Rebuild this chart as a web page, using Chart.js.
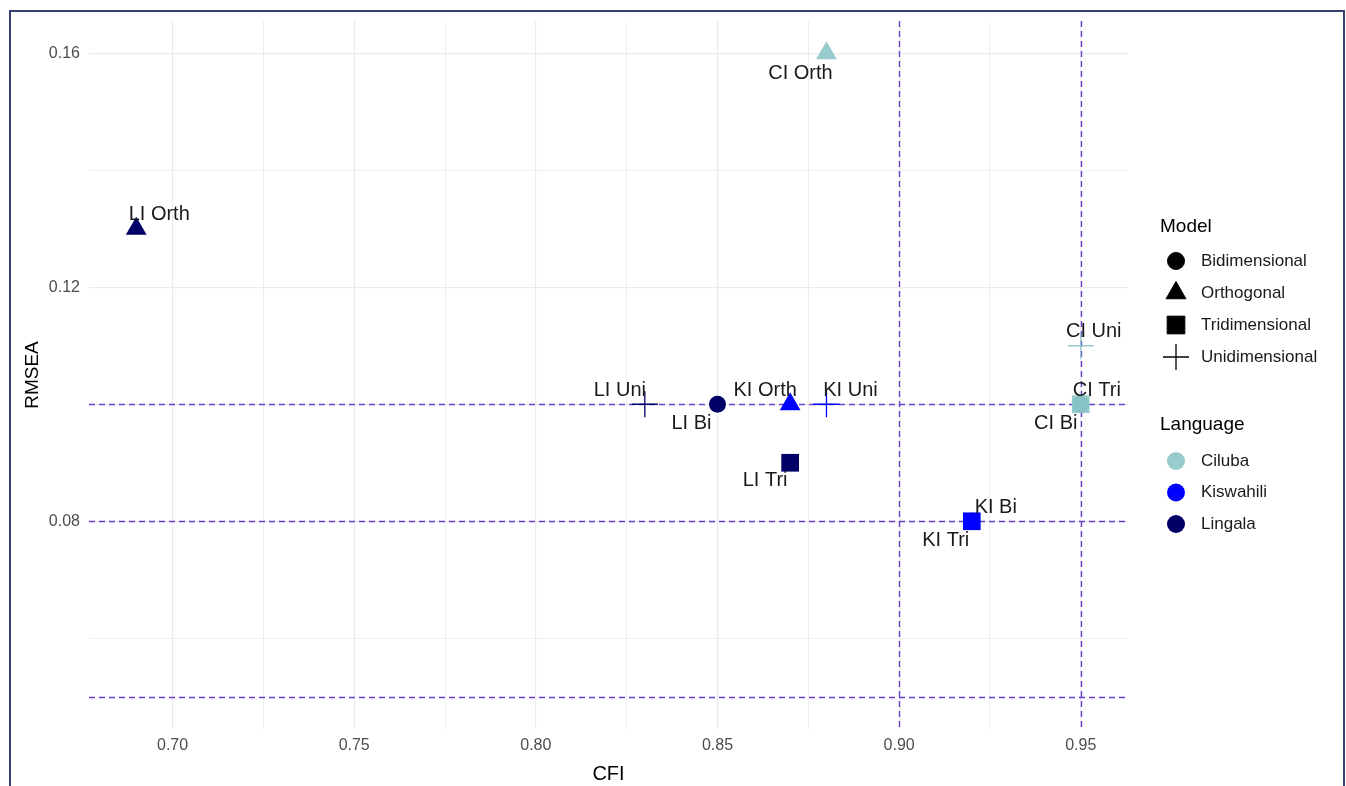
<!DOCTYPE html>
<html>
<head>
<meta charset="utf-8">
<script src="https://cdn.jsdelivr.net/npm/chart.js@4.4.1/dist/chart.umd.min.js"></script>
<style>
  html, body { margin: 0; padding: 0; background: #fff; }
  #wrap { position: relative; width: 1346px; height: 786px; overflow: hidden; }
  #frame { position: absolute; left: 9px; top: 10px; width: 1336px; height: 800px;
           border: 2px solid #34406f; box-sizing: border-box; pointer-events: none; }
  canvas { position: absolute; left: 0; top: 0; }
</style>
</head>
<body>
<div id="wrap">
  <canvas id="fitChart" width="1346" height="786"></canvas>
  <div id="frame"></div>
</div>
<script>
// values
var names    = ['LI Orth', 'CI Orth', 'LI Uni', 'LI Bi', 'KI Orth', 'KI Uni', 'LI Tri', 'KI Bi', 'KI Tri', 'CI Uni', 'CI Tri', 'CI Bi'];
var cfi      = [0.69, 0.88, 0.83, 0.85, 0.87, 0.88, 0.87, 0.92, 0.92, 0.95, 0.95, 0.95];
var rmsea    = [0.13, 0.16, 0.10, 0.10, 0.10, 0.10, 0.09, 0.08, 0.08, 0.11, 0.10, 0.10];
var language = ['Lingala', 'Ciluba', 'Lingala', 'Lingala', 'Kiswahili', 'Kiswahili', 'Lingala', 'Kiswahili', 'Kiswahili', 'Ciluba', 'Ciluba', 'Ciluba'];
var model    = ['Orthogonal', 'Orthogonal', 'Unidimensional', 'Bidimensional', 'Orthogonal', 'Unidimensional', 'Tridimensional', 'Bidimensional', 'Tridimensional', 'Unidimensional', 'Tridimensional', 'Bidimensional'];

var models    = ['Bidimensional', 'Orthogonal', 'Tridimensional', 'Unidimensional'];
var languages = ['Ciluba', 'Kiswahili', 'Lingala'];

// cut-off reference lines
var hLines = [0.10, 0.08, 0.05];
var vLines = [0.90, 0.95];

// axis ticks (grid at every step, label only on the major ones)
var xGrid   = [0.70, 0.725, 0.75, 0.775, 0.80, 0.825, 0.85, 0.875, 0.90, 0.925, 0.95];
var xLabels = ['0.70', '0.75', '0.80', '0.85', '0.90', '0.95'];
var yGrid   = [0.06, 0.08, 0.10, 0.12, 0.14, 0.16];
var yLabels = ['0.08', '0.12', '0.16'];

// look
var langColor = { Ciluba: 'rgba(133,194,195,0.85)', Kiswahili: '#0000ff', Lingala: '#000066' };
var shape = {
  Bidimensional:  { style: 'circle',   r: 8.5,  bw: 1 },
  Orthogonal:     { style: 'triangle', r: 12,   bw: 1 },
  Tridimensional: { style: 'rect',     r: 12.5, bw: 1 },
  Unidimensional: { style: 'cross',    r: 13,   bw: 1.3 }
};
// label nudges in pixels (where ggrepel pushed each text)
var labelNudge = {
  'LI Orth': [23, -14], 'CI Orth': [-26, 20], 'LI Uni': [-25, -14], 'LI Bi': [-26, 19],
  'KI Orth': [-25, -14], 'KI Uni': [24, -14], 'LI Tri': [-25, 18], 'KI Bi': [24, -14],
  'KI Tri': [-26, 19], 'CI Uni': [13, -14], 'CI Tri': [16, -14], 'CI Bi': [-25, 19]
};

var datasets = models.map(function (m) {
  var pts = [], cols = [], labs = [];
  for (var i = 0; i < names.length; i++) {
    if (model[i] !== m) continue;
    pts.push({ x: cfi[i], y: rmsea[i] });
    cols.push(langColor[language[i]]);
    labs.push(names[i]);
  }
  return {
    label: m,
    data: pts,
    names: labs,
    pointStyle: shape[m].style,
    pointRadius: shape[m].r,
    pointBorderWidth: m === 'Unidimensional' ? shape[m].bw : 0,
    pointBackgroundColor: cols,
    pointBorderColor: cols
  };
});

// dashed cut-offs under the marks
var refLines = {
  id: 'refLines',
  beforeDatasetsDraw: function (chart) {
    var ctx = chart.ctx, a = chart.chartArea;
    var xs = chart.scales.x, ys = chart.scales.y;
    ctx.save();
    ctx.strokeStyle = '#6a3fcf';
    ctx.lineWidth = 1.4;
    ctx.setLineDash([6, 4]);
    hLines.forEach(function (v) {
      var y = Math.round(ys.getPixelForValue(v)) + 0.5;
      ctx.beginPath(); ctx.moveTo(a.left, y); ctx.lineTo(a.right, y); ctx.stroke();
    });
    vLines.forEach(function (v) {
      var x = Math.round(xs.getPixelForValue(v)) + 0.5;
      ctx.beginPath(); ctx.moveTo(x, a.top); ctx.lineTo(x, a.bottom); ctx.stroke();
    });
    ctx.restore();
  }
};

var pointLabels = {
  id: 'pointLabels',
  afterDatasetsDraw: function (chart) {
    var ctx = chart.ctx;
    ctx.save();
    ctx.font = '20px "Liberation Sans", Arial, sans-serif';
    ctx.fillStyle = '#1a1a1a';
    ctx.textAlign = 'center';
    ctx.textBaseline = 'middle';
    chart.data.datasets.forEach(function (ds, di) {
      chart.getDatasetMeta(di).data.forEach(function (el, j) {
        var n = ds.names[j], d = labelNudge[n] || [0, -14];
        ctx.fillText(n, el.x + d[0], el.y + d[1]);
      });
    });
    ctx.restore();
  }
};

var sideLegend = {
  id: 'sideLegend',
  afterDraw: function (chart) {
    var ctx = chart.ctx;
    var x0 = chart.chartArea.right + 32, sx = x0 + 16, tx = x0 + 41;
    ctx.save();
    ctx.textAlign = 'left';
    ctx.textBaseline = 'middle';

    ctx.fillStyle = '#000';
    ctx.font = '19px "Liberation Sans", Arial, sans-serif';
    ctx.fillText('Model', x0, 227);
    ctx.font = '17px "Liberation Sans", Arial, sans-serif';
    models.forEach(function (m, i) {
      var y = 261 + i * 32;
      var s = shape[m];
      ctx.fillStyle = '#000'; ctx.strokeStyle = '#000'; ctx.lineWidth = s.bw;
      Chart.helpers.drawPoint(ctx, { pointStyle: s.style, radius: s.style === 'circle' ? 8.5 : s.style === 'triangle' ? 11.5 : s.r, rotation: 0, borderWidth: s.bw }, sx, y);
      ctx.fillStyle = '#1a1a1a';
      ctx.fillText(m, tx, y);
    });

    ctx.fillStyle = '#000';
    ctx.font = '19px "Liberation Sans", Arial, sans-serif';
    ctx.fillText('Language', x0, 425);
    ctx.font = '17px "Liberation Sans", Arial, sans-serif';
    languages.forEach(function (l, i) {
      var y = 461 + i * 31.5;
      ctx.fillStyle = langColor[l]; ctx.strokeStyle = langColor[l]; ctx.lineWidth = 1;
      Chart.helpers.drawPoint(ctx, { pointStyle: 'circle', radius: 9, rotation: 0, borderWidth: 0 }, sx, y);
      ctx.fillStyle = '#1a1a1a';
      ctx.fillText(l, tx, y);
    });
    ctx.restore();
  }
};

function fixTicks(values) {
  return function (scale) { scale.ticks = values.map(function (v) { return { value: v }; }); };
}
function isMajor(list, v) {
  var s = v.toFixed(2);
  return list.indexOf(s) >= 0 && Math.abs(v - parseFloat(s)) < 1e-9;
}
function majorOnly(list) {
  return function (value) { return isMajor(list, value) ? value.toFixed(2) : ''; };
}
function gridWidth(list) {
  return function (c) { return c.tick && isMajor(list, c.tick.value) ? 1.2 : 0.8; };
}

new Chart(document.getElementById('fitChart'), {
  type: 'scatter',
  data: { datasets: datasets },
  plugins: [refLines, pointLabels, sideLegend],
  options: {
    responsive: false,
    animation: false,
    devicePixelRatio: 1,
    events: [],
    layout: { padding: { left: 0, top: 21, right: 218, bottom: 0 } },
    plugins: { legend: { display: false }, tooltip: { enabled: false } },
    scales: {
      x: {
        type: 'linear', min: 0.677, max: 0.963,
        afterBuildTicks: fixTicks(xGrid),
        afterFit: function (s) { s.height = 57; },
        border: { display: false },
        grid: { color: '#ebebeb', lineWidth: gridWidth(xLabels), drawTicks: false },
        ticks: { callback: majorOnly(xLabels), color: '#4d4d4d', padding: 7, maxRotation: 0, autoSkip: false,
                 font: { family: '"Liberation Sans", Arial, sans-serif', size: 16 } },
        title: { display: true, text: 'CFI', color: '#000', padding: { top: 4, bottom: 0 },
                 font: { family: '"Liberation Sans", Arial, sans-serif', size: 20 } }
      },
      y: {
        type: 'linear', min: 0.0445, max: 0.1655,
        afterBuildTicks: fixTicks(yGrid),
        afterFit: function (s) { s.width = 89; },
        border: { display: false },
        grid: { color: '#ebebeb', lineWidth: gridWidth(yLabels), drawTicks: false },
        ticks: { callback: majorOnly(yLabels), color: '#4d4d4d', padding: 9, autoSkip: false,
                 font: { family: '"Liberation Sans", Arial, sans-serif', size: 16 } },
        title: { display: true, text: 'RMSEA', color: '#000', padding: { top: 21, bottom: 0 },
                 font: { family: '"Liberation Sans", Arial, sans-serif', size: 19 } }
      }
    }
  }
});
</script>
</body>
</html>
